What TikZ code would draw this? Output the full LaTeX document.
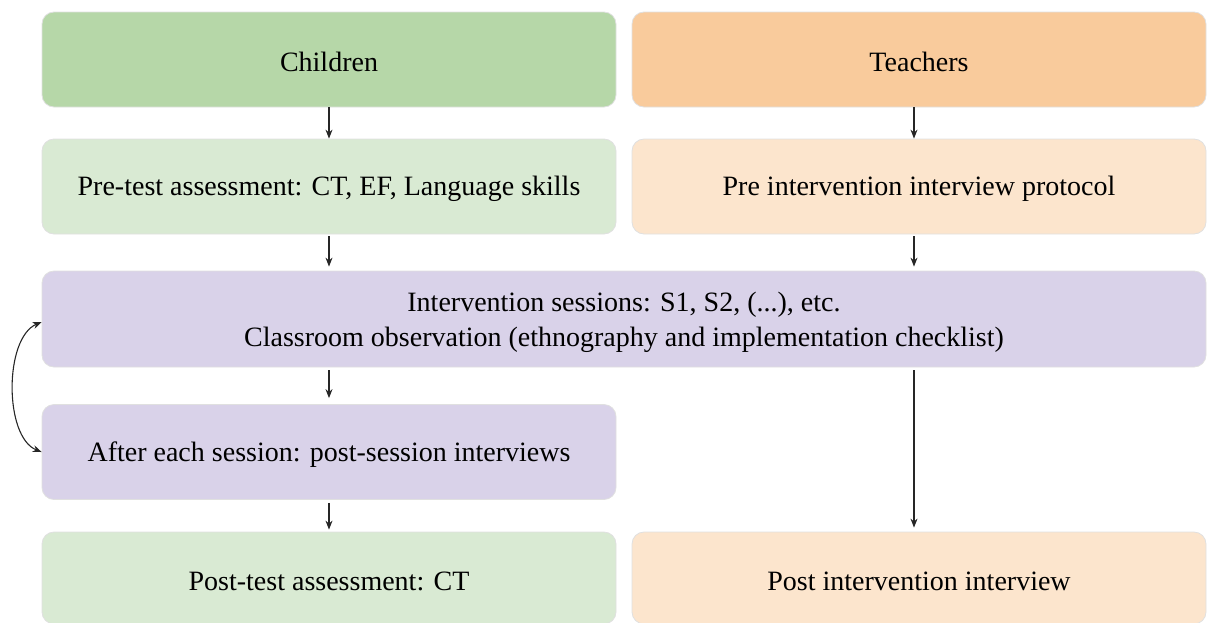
\documentclass[tikz,border=0pt]{standalone}
\usepackage{fontspec}
\setmainfont{Liberation Serif}
\usetikzlibrary{arrows.meta}
\definecolor{gdark}{HTML}{B6D7A8}
\definecolor{glight}{HTML}{D9EAD3}
\definecolor{odark}{HTML}{F9CB9C}
\definecolor{olight}{HTML}{FCE5CD}
\definecolor{purp}{HTML}{D9D2E9}
\tikzset{
  x=1pt, y=-1pt,
  box/.style={draw=black!12, line width=0.8pt, rounded corners=12pt, align=center,
    font=\fontsize{28}{35}\selectfont, inner sep=0pt},
  halfbox/.style={box, minimum width=574pt, minimum height=95pt},
  widebox/.style={box, minimum width=1164pt, minimum height=96pt},
  flow/.style={-{Stealth[length=9pt,width=7pt]}, line width=1.1pt, black!85},
}
\begin{document}
\begin{tikzpicture}
\useasboundingbox (0,0) rectangle (1210,622);
% column headers
\node[halfbox, fill=gdark] (ch) at (329,59.5) {};
\node[halfbox, fill=odark] (te) at (919,59.5) {};
\node (chT) at (329,62) [font=\fontsize{28}{35}\selectfont] {Children};
\node (teT) at (919,62) [font=\fontsize{28}{35}\selectfont] {Teachers};
% pre-intervention stage
\node[halfbox, fill=glight] (pre) at (329,186.5) {};
\node[halfbox, fill=olight] (pit) at (919,186.5) {};
\node (preT) at (329,189) [font=\fontsize{28}{35}\selectfont] {Pre-test assessment: CT, EF, Language skills};
\node (pitT) at (919,189) [font=\fontsize{28}{35}\selectfont] {Pre intervention interview protocol};
% intervention stage
\node[widebox, fill=purp] (int) at (624,319) {};
\node (intT) at (624,322) [align=center, font=\fontsize{28}{35}\selectfont] {Intervention sessions: S1, S2, (...), etc.\\Classroom observation (ethnography and implementation checklist)};
\node[halfbox, fill=purp] (aft) at (329,452) {};
\node (aftT) at (329,455) [font=\fontsize{28}{35}\selectfont] {After each session: post-session interviews};
% post-intervention stage
\node[halfbox, fill=glight, minimum height=92pt] (post) at (329,578) {};
\node[halfbox, fill=olight, minimum height=92pt] (pti) at (919,578) {};
\node (postT) at (329,581) [font=\fontsize{28}{35}\selectfont] {Post-test assessment: CT};
\node (ptiT) at (919,581) [font=\fontsize{28}{35}\selectfont] {Post intervention interview};
% connectors
\draw[flow] (ch.south -| 329,0) -- (pre.north -| 329,0);
\draw[flow] (te.south -| 914,0) -- (pit.north -| 914,0);
\draw[flow] ([yshift=-2pt]pre.south -| 329,0) -- ([yshift=4pt]int.north -| 329,0);
\draw[flow] ([yshift=-2pt]pit.south -| 914,0) -- ([yshift=4pt]int.north -| 914,0);
\draw[flow] ([yshift=-3pt]int.south -| 329,0) -- ([yshift=6pt]aft.north -| 329,0);
\draw[flow] ([yshift=-3pt]int.south -| 914,0) -- ([yshift=4pt]pti.north -| 914,0);
\draw[flow] ([yshift=-3pt]aft.south -| 329,0) -- ([yshift=2pt]post.north -| 329,0);
% loop between sessions and post-session interviews
\draw[{Stealth[length=9pt,width=7pt]}-{Stealth[length=9pt,width=7pt]}, line width=1.1pt, black!85]
  (int.west |- 0,322) .. controls (4,338) and (4,437) .. (aft.west |- 0,452);
\end{tikzpicture}
\end{document}
